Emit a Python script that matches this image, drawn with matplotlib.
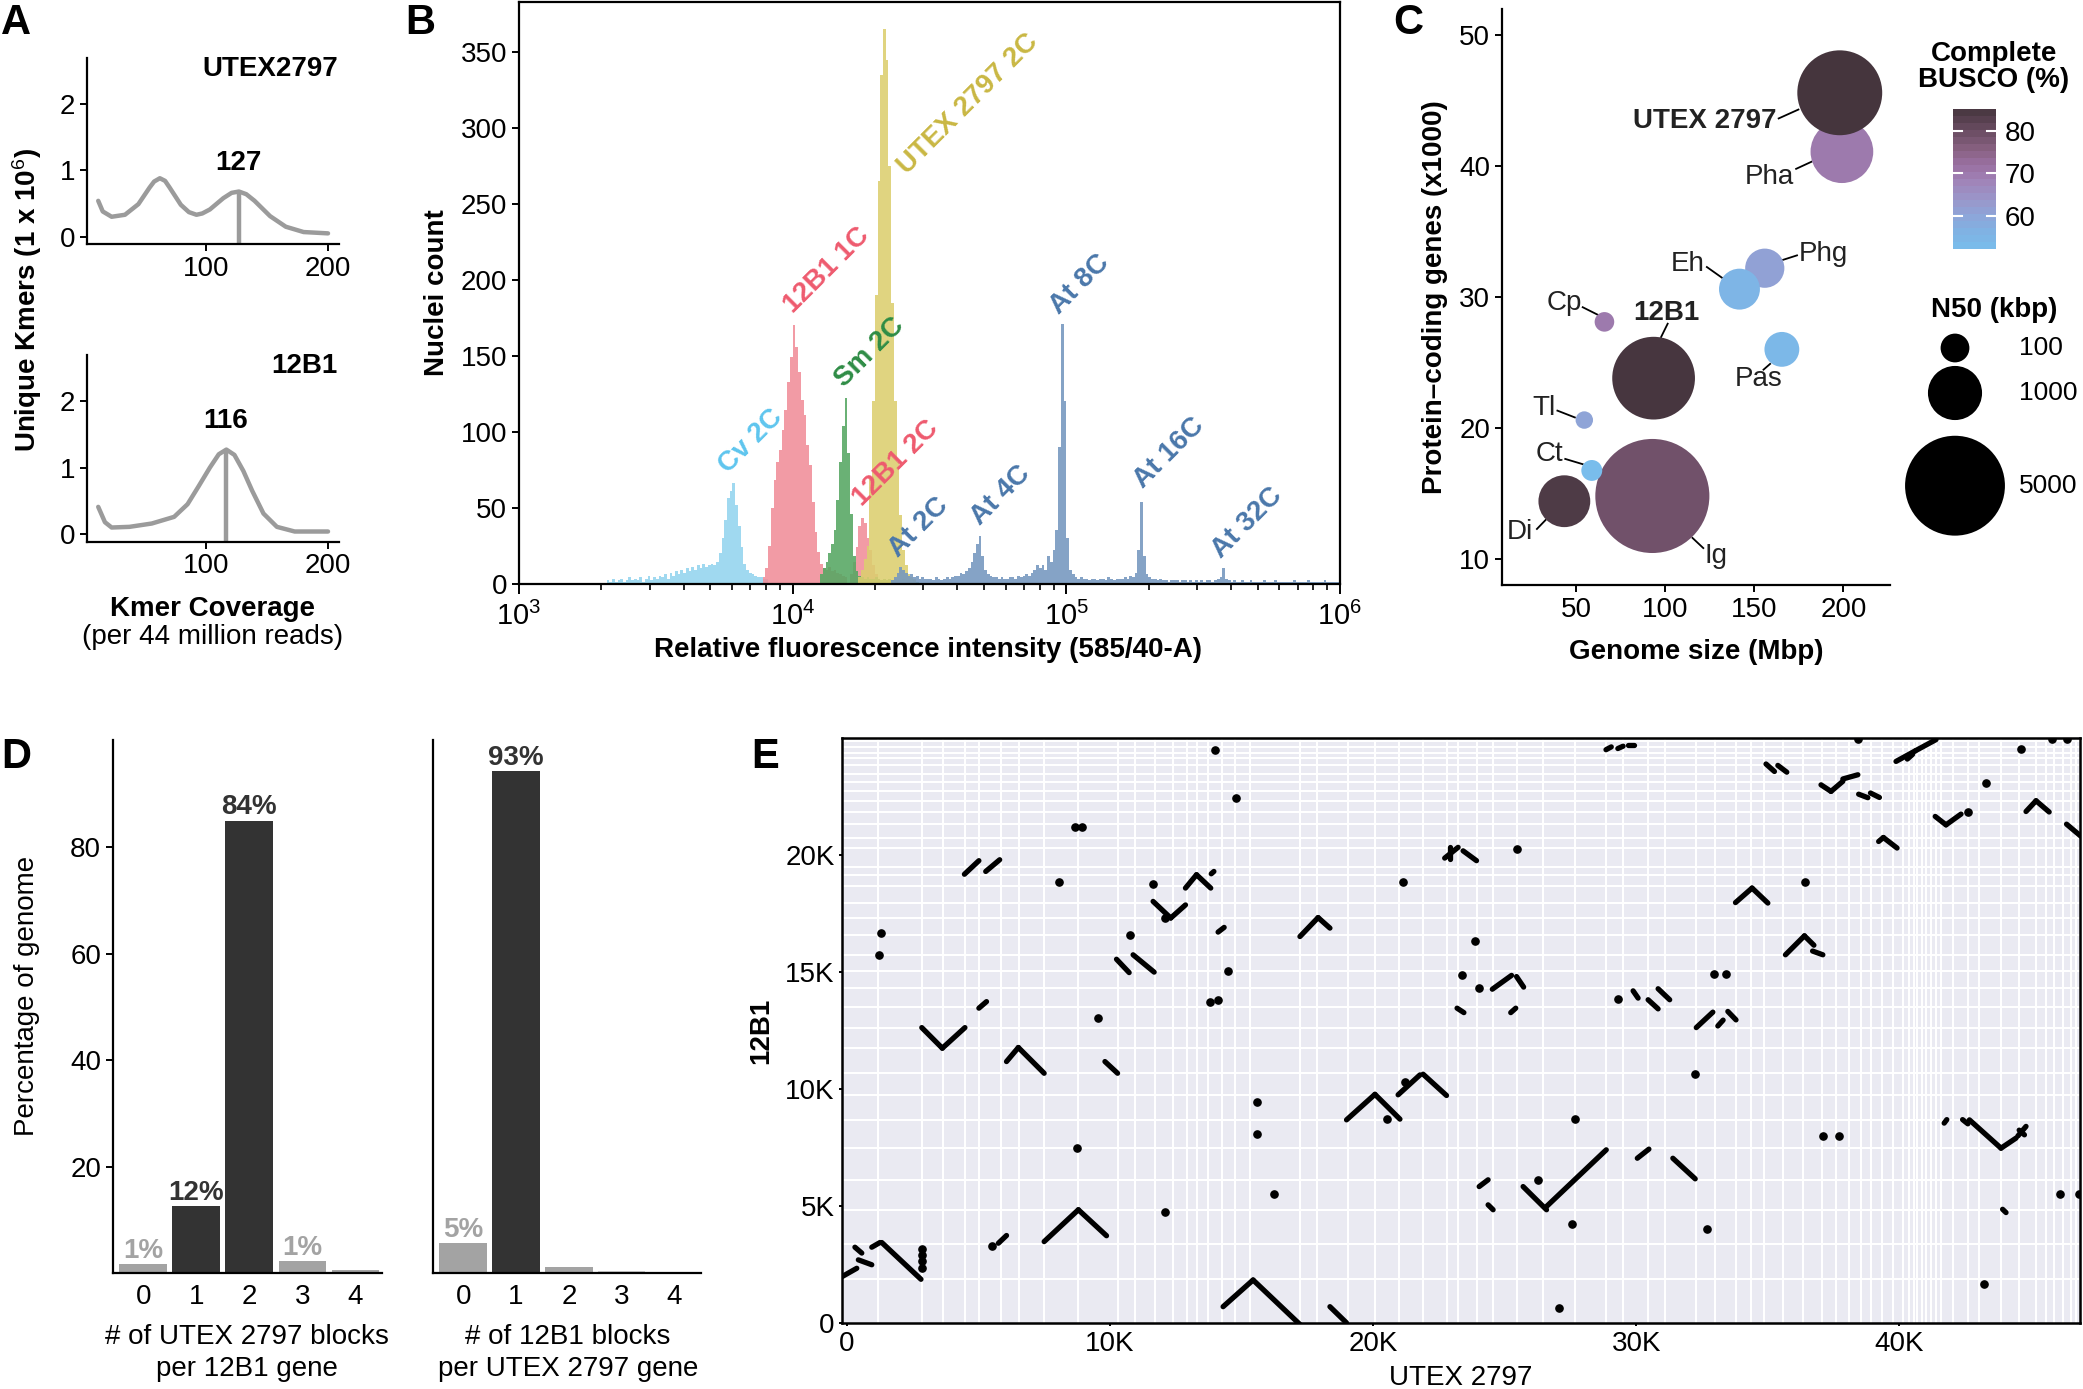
import numpy as np
import matplotlib
matplotlib.use("Agg")
import matplotlib.pyplot as plt
from matplotlib.colors import LinearSegmentedColormap, Normalize

# ---------------- data ----------------
# A: kmer spectra (coverage, unique kmers x 1e6)
kmer_cov_utex = [11.7, 15.4, 22.7, 33.6, 44.6, 53.8, 57.5, 62.2, 66.5, 70.2, 79.4, 86.0,
                 92.2, 97.0, 103.2, 114.2, 121.0, 127.0, 133.0, 139.8, 152.5, 165.4, 180.0, 200.0]
kmer_cnt_utex = [0.54, 0.38, 0.30, 0.33, 0.49, 0.74, 0.83, 0.88, 0.84, 0.74, 0.48, 0.37,
                 0.33, 0.35, 0.41, 0.58, 0.66, 0.68, 0.64, 0.54, 0.31, 0.15, 0.07, 0.05]
kmer_cov_12b1 = [11.7, 17.2, 22.7, 37.3, 55.6, 73.9, 84.9, 94.0, 103.2, 110.5, 116.7, 123.3,
                 130.6, 137.9, 147.1, 158.1, 172.7, 200.0]
kmer_cnt_12b1 = [0.41, 0.18, 0.10, 0.11, 0.16, 0.26, 0.45, 0.72, 1.00, 1.20, 1.27, 1.19,
                 0.95, 0.65, 0.31, 0.11, 0.04, 0.04]
kmer_peak_utex = 127
kmer_peak_12b1 = 116

# B: flow cytometry histograms, log10 bins of 0.01 starting at *_start
BIN_W = 0.01
cv_start = 3.32
cv_counts = [2, 1, 3, 1, 2, 3, 1, 2, 4, 2,
             3, 2, 4, 1, 3, 5, 2, 4, 3, 5,
             4, 6, 3, 7, 5, 8, 6, 9, 7, 10,
             8, 11, 9, 12, 10, 13, 11, 12, 13,
             12, 14, 20, 30, 42, 56, 61, 66, 52, 38,
             24, 13, 9, 7, 6, 5, 4, 4, 3, 3]
b1c_start = 3.89
b1c_counts = [4, 10, 25, 50, 68, 80, 88, 101, 114, 133, 149,
              170, 156, 139, 121, 111, 91, 78, 54, 34, 21,
              13, 10, 9, 11, 8, 9, 7, 6, 5, 4]
sm_start = 4.10
sm_counts = [6, 10, 14, 20, 26, 35, 55, 80, 104, 122, 86, 46, 18, 8, 5, 4, 3, 4, 3, 3,
             4, 3, 2, 3, 2, 3, 2, 3, 2, 2, 3, 2, 2, 1, 2, 1]
b2c_start = 4.21
b2c_counts = [6, 14, 24, 38, 43, 40, 30, 22, 12, 6, 3]
utex_start = 4.24
utex_counts = [4, 9, 16, 25, 70, 120, 190, 265, 335, 365, 345, 275, 185, 120, 80, 45, 22, 12, 6, 4, 3]
at_start = 4.36
at_counts = [2, 4, 7, 11,
             9, 7, 5, 6, 4, 5, 3, 4, 3, 3,
             3, 2, 4, 3, 2, 3, 4, 3, 4, 5,
             5, 7, 6, 8, 10, 14, 20, 26, 31, 18,
             9, 6, 5, 4, 4, 3, 4, 3, 3, 4,
             4, 3, 5, 4, 5, 6, 5, 7, 9, 12,
             10, 12, 9, 18, 14, 22, 35, 90, 171, 120,
             30, 9, 6, 4, 3, 4, 3, 3, 2, 3,
             3, 2, 3, 3, 2, 4, 3, 2, 3, 3,
             3, 4, 3, 5, 4, 7, 22, 54, 18, 6,
             4, 3, 3, 2, 3, 2, 2, 1, 2, 2,
             2, 1, 2, 2, 1, 2, 1, 2, 1, 2,
             1, 2, 2, 1, 2, 3, 4, 10, 3, 2,
             1, 2, 1, 1, 2, 1, 1, 2, 1, 1,
             1, 1, 2, 1, 1, 1, 2, 1, 1, 1,
             1, 1, 1, 2, 1, 1, 1, 1, 2, 1,
             1, 1, 1, 1, 2, 1, 1, 1, 1, 1]
# peak labels: text, log10 position, count position, colour
flow_labels = [("Cv 2C", 3.848, 94, '#5ec5ee'),
               ("12B1 1C", 4.125, 206, '#ee5a6e'),
               ("Sm 2C", 4.281, 152, '#2e8c45'),
               ("12B1 2C", 4.377, 79, '#ee5a6e'),
               ("UTEX 2797 2C", 4.640, 316, '#c9b743'),
               ("At 2C", 4.460, 37, '#4a77aa'),
               ("At 4C", 4.761, 58, '#4a77aa'),
               ("At 8C", 5.048, 197, '#4a77aa'),
               ("At 16C", 5.374, 86, '#4a77aa'),
               ("At 32C", 5.659, 40, '#4a77aa')]

# C: genome comparison
species = ['Ig', 'Pha', 'UTEX 2797', '12B1', 'Di', 'Phg', 'Eh', 'Pas', 'Cp', 'Tl', 'Ct']
genome_mbp = [92.8, 199.2, 198.0, 93.5, 43.4, 155.9, 141.7, 165.5, 65.9, 54.6, 58.8]
genes_k = [14.8, 41.1, 45.6, 23.8, 14.4, 32.2, 30.6, 26.0, 28.1, 20.6, 16.75]
n50_kbp = [6860, 1518, 3354, 3143, 880, 357, 415, 230, 4.6, 0.1, 10.7]
busco_pct = [79, 70, 85.3, 85, 84, 61, 55, 54, 70, 60.5, 52.1]
# label text position and leader line (data units)
c_labels = [('Ig', 122.2, 10.24, 'left', False, (115.3, 11.6), (121.4, 10.82)),
            ('Pha', 172.3, 39.2, 'right', False, (173.5, 39.79), (182.1, 40.33)),
            ('UTEX 2797', 162.5, 43.47, 'right', True, (163.7, 43.64), (174.8, 44.32)),
            ('12B1', 100.6, 28.81, 'center', True, (101.4, 27.96), (97.7, 26.94)),
            ('Di', 18.2, 12.04, 'center', False, (28.0, 12.28), (32.9, 12.97)),
            ('Phg', 174.8, 33.31, 'left', False, (166.2, 32.84), (174.0, 33.18)),
            ('Eh', 122.2, 32.5, 'right', False, (123.4, 32.29), (131.9, 31.47)),
            ('Pas', 152.7, 23.7, 'center', False, (155.2, 24.45), (158.9, 24.89)),
            ('Cp', 53.2, 29.56, 'right', False, (53.7, 29.22), (62.2, 28.64)),
            ('Tl', 38.5, 21.49, 'right', False, (39.5, 21.32), (49.3, 20.8)),
            ('Ct', 42.7, 17.98, 'right', False, (43.9, 17.63), (53.7, 17.23))]
n50_legend = [100, 1000, 5000]

# D: syntenic block counts
blocks = [0, 1, 2, 3, 4]
pct_utex_blocks = [1.6, 12.6, 85.0, 2.2, 0.5]
pct_12b1_blocks = [5.6, 94.3, 1.2, 0.4, 0.0]
lab_utex_blocks = ['1%', '12%', '84%', '1%', '']
lab_12b1_blocks = ['5%', '93%', '', '', '']

# E: dot plot (gene rank, thousands)
utex_breaks_k = [1.18, 2.87, 3.67, 4.49, 5.04, 5.85, 6.54, 7.5, 8.77, 10.29, 10.97, 11.73,
                 12.40, 12.93, 13.29, 13.73, 14.24, 14.74, 15.31, 17.22, 17.85, 19.05, 20.09,
                 20.99, 21.90, 22.79, 23.23, 23.93, 24.56, 25.45, 26.46, 27.66, 28.86, 29.50,
                 30.45, 31.1, 32.28, 33.01, 33.79, 34.36, 34.87, 35.59, 36.33, 37.06, 37.59,
                 38.10, 38.54, 38.92, 39.34, 39.74, 40.12, 40.35, 40.55, 40.66, 40.85,
                 41.01, 41.20, 41.4, 41.58, 42.02, 42.59, 43.04, 43.86,
                 44.56, 45.19, 45.57, 45.88, 46.20, 46.52, 46.71]
b12_breaks_k = [24.86, 24.60, 24.36, 24.14, 23.86, 23.46, 23.10, 22.72, 22.29, 21.84, 21.32,
                20.72, 20.30, 19.51, 19.16, 18.66, 17.95, 17.31, 16.59, 15.74, 15.03, 14.31,
                13.49, 12.60, 11.75, 10.68, 9.76, 8.69, 7.48, 6.13, 4.85, 3.39, 1.88]
syn_segments_k = [
    (4.47, 19.18, 5.02, 19.76), (5.28, 19.30, 5.81, 19.80), (12.87, 18.59, 13.29, 19.16),
    (13.29, 19.16, 13.83, 18.59), (13.85, 19.20, 13.95, 19.30), (11.64, 18.02, 12.31, 17.31),
    (12.31, 17.31, 12.87, 17.87), (14.11, 16.71, 14.34, 16.91), (10.25, 15.55, 10.73, 14.98),
    (10.88, 15.74, 11.68, 15.00), (5.02, 13.46, 5.31, 13.74), (2.85, 12.63, 3.63, 11.75),
    (3.63, 11.75, 4.49, 12.63), (6.07, 11.18, 6.52, 11.78), (6.52, 11.78, 7.50, 10.68),
    (9.81, 11.18, 10.29, 10.68),
    (7.50, 3.49, 8.80, 4.85), (8.80, 4.85, 9.87, 3.74), (5.76, 3.42, 6.07, 3.75),
    (-0.17, 2.0, 0.38, 2.35), (0.44, 2.71, 0.95, 2.50), (0.31, 3.25, 0.57, 3.0),
    (0.95, 3.25, 1.26, 3.45), (1.33, 3.45, 2.82, 1.88), (14.3, 0.71, 15.44, 1.85),
    (28.85, 24.50, 29.05, 24.62), (29.3, 24.55, 29.5, 24.65), (29.7, 24.68, 29.9, 24.68),
    (22.72, 19.87, 23.23, 20.33), (22.92, 20.33, 22.92, 19.85), (23.42, 20.18, 23.93, 19.76),
    (17.22, 16.52, 17.91, 17.33), (17.91, 17.33, 18.36, 16.88), (24.53, 14.27, 25.26, 14.86),
    (25.45, 14.81, 25.72, 14.36), (23.19, 13.46, 23.45, 13.27), (25.23, 13.27, 25.42, 13.46),
    (29.88, 14.20, 30.07, 13.89), (30.45, 13.82, 30.83, 13.43), (30.83, 14.29, 31.27, 13.82),
    (18.99, 8.69, 20.07, 9.78), (20.07, 9.78, 21.02, 8.72), (20.95, 9.76, 21.78, 10.61),
    (21.90, 10.64, 22.79, 9.73),
    (24.03, 5.84, 24.37, 6.13), (24.37, 5.06, 24.56, 4.85), (25.70, 5.84, 26.59, 4.85),
    (26.59, 4.99, 28.86, 7.41), (30.04, 7.05, 30.48, 7.44), (15.44, 1.85, 17.22, -0.05),
    (18.36, 0.71, 18.99, 0.02),
    (34.93, 23.89, 35.25, 23.57), (35.38, 23.83, 35.72, 23.54), (37.02, 23.00, 37.40, 22.72),
    (37.40, 22.72, 37.85, 23.15), (37.85, 23.25, 38.42, 23.43), (38.45, 22.60, 38.80, 22.45),
    (38.9, 22.65, 39.24, 22.46), (39.87, 24.00, 40.6, 24.45), (40.6, 24.45, 41.39, 24.93),
    (40.3, 24.1, 40.5, 24.3), (41.36, 21.65, 41.77, 21.29), (41.77, 21.29, 42.34, 21.75),
    (44.81, 21.86, 45.19, 22.32), (45.19, 22.32, 45.69, 21.84), (46.35, 21.32, 46.90, 20.80),
    (39.21, 20.58, 39.39, 20.75), (39.39, 20.75, 39.91, 20.30), (33.77, 17.97, 34.40, 18.59),
    (34.40, 18.59, 35.00, 17.95), (35.67, 15.74, 36.39, 16.55), (36.39, 16.55, 36.75, 16.15),
    (36.7, 15.9, 37.09, 15.74), (32.28, 12.63, 32.91, 13.29), (33.48, 13.32, 33.79, 12.96),
    (33.1, 12.7, 33.3, 12.95), (41.7, 8.55, 41.8, 8.7),
    (42.66, 8.69, 43.86, 7.48), (42.4, 8.70, 42.6, 8.52), (43.86, 7.48, 44.43, 7.91),
    (44.5, 8.0, 44.81, 8.41), (44.55, 8.25, 44.75, 8.05), (31.39, 7.05, 32.24, 6.17),
    (43.92, 4.87, 44.05, 4.73)]
syn_dots_x_k = [14.01, 14.78, 8.69, 8.92, 8.07, 11.63, 12.08, 10.78, 1.30, 1.23, 14.49, 13.82,
                14.09, 9.55, 8.76, 12.09, 5.50, 2.85, 2.85, 2.85, 2.85, 25.45, 21.14, 23.86,
                23.38, 24.03, 29.31, 15.60, 15.57, 20.54, 21.21, 27.66, 16.23, 26.27, 27.54,
                27.07, 38.42, 44.62, 45.80, 46.35, 43.29, 42.59, 36.43, 32.97, 33.42, 32.24,
                37.11, 37.69, 43.22, 46.11, 46.83, 32.69]
syn_dots_y_k = [24.50, 22.43, 21.18, 21.18, 18.84, 18.77, 17.31, 16.59, 16.68, 15.71, 15.03, 13.74,
                13.79, 13.06, 7.48, 4.77, 3.32, 3.17, 2.92, 2.64, 2.35, 20.27, 18.83, 16.31,
                14.86, 14.31, 13.86, 9.44, 8.07, 8.73, 10.30, 8.72, 5.52, 6.13, 4.23,
                0.64, 24.97, 24.53, 24.95, 24.95, 23.07, 21.84, 18.84, 14.91, 14.91, 10.64,
                8.00, 8.00, 1.68, 5.53, 5.53, 4.02]

# ---------------- style ----------------
plt.rcParams['font.family'] = ['Liberation Sans', 'DejaVu Sans']
plt.rcParams['mathtext.fontset'] = 'custom'
plt.rcParams['mathtext.rm'] = 'Liberation Sans'
plt.rcParams['mathtext.it'] = 'Liberation Sans:italic'
plt.rcParams['mathtext.bf'] = 'Liberation Sans:bold'
plt.rcParams['axes.linewidth'] = 1.6
plt.rcParams['xtick.major.width'] = 1.4
plt.rcParams['ytick.major.width'] = 1.4
plt.rcParams['xtick.major.size'] = 5
plt.rcParams['ytick.major.size'] = 5
FS = 20

W, H = 2083, 1389
fig = plt.figure(figsize=(W / 100, H / 100), dpi=100)


def box(l, t, r, b):
    return [l / W, 1 - b / H, (r - l) / W, (b - t) / H]


def ftext(x, y, s, **kw):
    fig.text(x / W, 1 - y / H, s, **kw)


def clean(ax):
    ax.spines['top'].set_visible(False)
    ax.spines['right'].set_visible(False)
    ax.tick_params(labelsize=FS)


# ---------------- A ----------------
grey = '#9b9b9b'
for rect, cov, cnt, peak, name in [(box(87, 58, 339, 244), kmer_cov_utex, kmer_cnt_utex, kmer_peak_utex, 'UTEX2797'),
                                   (box(87, 355, 339, 541.5), kmer_cov_12b1, kmer_cnt_12b1, kmer_peak_12b1, '12B1')]:
    ax = fig.add_axes(rect)
    ax.plot(cov, cnt, color=grey, lw=3.2, solid_capstyle='round', solid_joinstyle='round')
    top = np.interp(peak, cov, cnt)
    ax.vlines(peak, -0.11, top, color=grey, lw=3.2)
    ax.text(peak, top + 0.43, str(peak), ha='center', va='center', fontsize=FS, fontweight='bold')
    ax.text(208, 2.52, name, ha='right', va='center', fontsize=FS, fontweight='bold')
    ax.set_xlim(2.5, 209)
    ax.set_ylim(-0.11, 2.69)
    ax.set_xticks([100, 200])
    ax.set_yticks([0, 1, 2])
    clean(ax)

ftext(27, 300, 'Unique Kmers (1 x 10$^6$)', rotation=90, ha='center', va='center',
      fontsize=FS, fontweight='bold')
ftext(213, 609, 'Kmer Coverage', ha='center', va='center', fontsize=FS, fontweight='bold')
ftext(213, 637, '(per 44 million reads)', ha='center', va='center', fontsize=FS)

# ---------------- B ----------------
axb = fig.add_axes(box(519, 2, 1340, 583.5))
axb.set_xscale('log')
pops = [(cv_start, cv_counts, '#93d4ef'),
        (b1c_start, b1c_counts, '#f18d99'),
        (b2c_start, b2c_counts, '#f18d99'),
        (sm_start, sm_counts, '#55a762'),
        (utex_start, utex_counts, '#dccf6f'),
        (at_start, at_counts, '#7497bf')]
for start, counts, col in pops:
    edges = 10 ** (start + BIN_W * np.arange(len(counts) + 1))
    axb.stairs(counts, edges, fill=True, color=col, alpha=0.88, lw=0)
for txt, lx, ly, col in flow_labels:
    axb.text(10 ** lx, ly, txt, rotation=45, ha='center', va='center', rotation_mode='anchor',
             color=col, fontsize=FS, fontweight='bold')
axb.set_xlim(1e3, 1e6)
axb.set_ylim(0, 383)
axb.set_xticks([1e3, 1e4, 1e5, 1e6], ['$10^3$', '$10^4$', '$10^5$', '$10^6$'])
axb.set_yticks(range(0, 351, 50))
axb.tick_params(labelsize=FS)
axb.tick_params(axis='x', which='major', length=7, pad=6, labelsize=FS + 1)
axb.tick_params(axis='x', which='minor', length=4.5, width=1.2)
axb.set_ylabel('Nuclei count', fontsize=FS, fontweight='bold', labelpad=8)
ftext(928, 650, 'Relative fluorescence intensity (585/40-A)', ha='center', va='center',
      fontsize=FS, fontweight='bold')

# ---------------- C ----------------
busco_cmap = LinearSegmentedColormap.from_list(
    'busco', [(0.0, '#79bdec'), (0.12, '#80b2e3'), (0.24, '#8ea5d8'), (0.36, '#9a95c9'),
              (0.48, '#a084b8'), (0.6, '#9a70a2'), (0.72, '#86607f'), (0.84, '#6b4d63'),
              (1.0, '#45353d')])
busco_norm = Normalize(min(busco_pct), max(busco_pct))


def n50_area(n):
    r = 6.15 + 0.4215 * np.sqrt(np.asarray(n, dtype=float))
    return (2 * r) ** 2


axc = fig.add_axes(box(1502, 9, 1890, 585))
axc.scatter(genome_mbp, genes_k, s=n50_area(n50_kbp), c=busco_pct, cmap=busco_cmap,
            norm=busco_norm, linewidths=0, zorder=3)
for name, tx, ty, ha, bold, p0, p1 in c_labels:
    axc.text(tx, ty, name, ha=ha, va='center', fontsize=FS,
             fontweight='bold' if bold else 'normal', color='#222222')
    axc.plot([p0[0], p1[0]], [p0[1], p1[1]], color='black', lw=1.3, zorder=2)
axc.set_xlim(8.4, 226.2)
axc.set_ylim(8.0, 52)
axc.set_xticks([50, 100, 150, 200])
axc.set_yticks([10, 20, 30, 40, 50])
clean(axc)
axc.set_ylabel('Protein\u2013coding genes (x1000)', fontsize=FS, fontweight='bold', labelpad=8)
axc.set_xlabel('Genome size (Mbp)', fontsize=FS, fontweight='bold', labelpad=12)

# colour bar
cax = fig.add_axes(box(1953, 108.5, 1996, 249))
lev = np.linspace(min(busco_pct), max(busco_pct), 21)
cax.pcolormesh([0, 1], lev, ((lev[:-1] + lev[1:]) / 2)[:, None], cmap=busco_cmap, norm=busco_norm)
cax.set_xlim(0, 1)
cax.set_ylim(lev[0], lev[-1])
for t in [60, 70, 80]:
    cax.plot([0, 0.2], [t, t], color='white', lw=1.5)
    cax.plot([0.8, 1], [t, t], color='white', lw=1.5)
cax.set_xticks([])
cax.yaxis.tick_right()
cax.set_yticks([60, 70, 80])
cax.tick_params(length=0, pad=6.5, labelsize=FS)
for s in cax.spines.values():
    s.set_visible(False)
ftext(1994, 67, 'Complete\nBUSCO (%)', ha='center', va='center', fontsize=FS,
      fontweight='bold', linespacing=1.0)

# size legend
leg = fig.add_axes([0, 0, 1, 1])
leg.set_xlim(0, W)
leg.set_ylim(H, 0)
leg.axis('off')
leg_y = [348, 393, 485.7]
leg.scatter([1955] * 3, leg_y, s=n50_area(n50_legend), color='black', linewidths=0)
for v, y in zip(n50_legend, leg_y):
    leg.text(2019, y, str(v), ha='left', va='center', fontsize=19)
leg.text(1994, 310, 'N50 (kbp)', ha='center', va='center', fontsize=FS, fontweight='bold')

# ---------------- D ----------------
dark, mid, light = '#333333', '#a3a3a3', '#cfcfcf'
d_sets = [(box(113, 740, 382, 1273), pct_utex_blocks, lab_utex_blocks,
           [mid, dark, dark, mid, mid], True, 247, '# of UTEX 2797 blocks\nper 12B1 gene'),
          (box(433, 740, 701, 1273), pct_12b1_blocks, lab_12b1_blocks,
           [mid, dark, mid, light, mid], False, 568, '# of 12B1 blocks\nper UTEX 2797 gene')]
for rect, vals, labs, cols, show_y, xc, xlab in d_sets:
    ax = fig.add_axes(rect)
    ax.bar(blocks, vals, width=0.9, color=cols)
    for b, v, lab, col in zip(blocks, vals, labs, cols):
        if lab:
            ax.text(b, v + 1.2, lab, ha='center', va='baseline', fontsize=FS,
                    fontweight='bold', color=col)
    ax.set_xlim(-0.57, 4.5)
    ax.set_ylim(0, 100.2)
    ax.set_xticks(blocks)
    clean(ax)
    ax.tick_params(axis='x', length=0, pad=8)
    if show_y:
        ax.set_yticks([20, 40, 60, 80])
    else:
        ax.set_yticks([])
    ftext(xc, 1353, xlab, ha='center', va='center', fontsize=FS, linespacing=1.35)
ftext(27, 996, 'Percentage of genome', rotation=90, ha='center', va='center', fontsize=FS)

# ---------------- E ----------------
axe = fig.add_axes(box(842.3, 738, 2079.7, 1323.3))
axe.set_facecolor('#eaeaf2')
for xb in utex_breaks_k:
    axe.axvline(xb * 1000, color='white', lw=1.5, zorder=1)
for yb in b12_breaks_k:
    axe.axhline(yb * 1000, color='white', lw=1.5, zorder=1)
for x0, y0, x1, y1 in syn_segments_k:
    axe.plot([x0 * 1000, x1 * 1000], [y0 * 1000, y1 * 1000], color='black', lw=3.8,
             solid_capstyle='round', zorder=3)
axe.plot(np.array(syn_dots_x_k) * 1000, np.array(syn_dots_y_k) * 1000, 'o', ms=5.2,
         color='black', zorder=3)
axe.set_xlim(-170, 46850)
axe.set_ylim(0, 25000)
axe.set_xticks([0, 10000, 20000, 30000, 40000], ['0', '10K', '20K', '30K', '40K'])
axe.set_yticks([0, 5000, 10000, 15000, 20000], ['0', '5K', '10K', '15K', '20K'])
axe.tick_params(length=2.5, pad=3, labelsize=FS)
for s in axe.spines.values():
    s.set_linewidth(1.8)
axe.set_ylabel('12B1', fontsize=FS, fontweight='bold', labelpad=8)
ftext(1461, 1378, 'UTEX 2797', ha='center', va='center', fontsize=FS)

# panel letters
for letter, x, y in [('A', 16, 23), ('B', 420, 23), ('C', 1408, 23), ('D', 16, 757), ('E', 765, 757)]:
    ftext(x, y, letter, ha='center', va='center', fontsize=30, fontweight='bold')

fig.savefig('out.png', dpi=100)
